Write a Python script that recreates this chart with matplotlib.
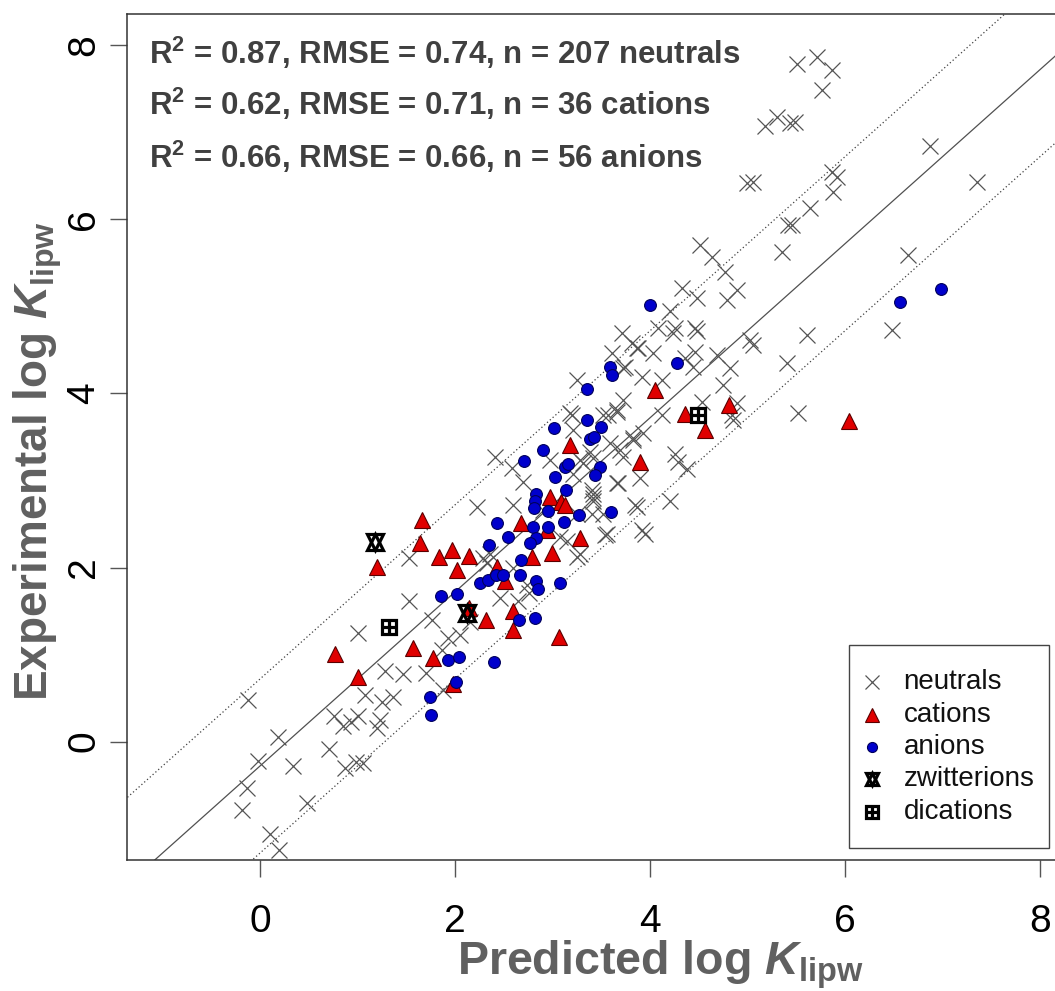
import numpy as np
import matplotlib
matplotlib.use("Agg")
import matplotlib.pyplot as plt
from matplotlib.patches import Rectangle

plt.rcParams['font.family'] = ['Liberation Sans', 'DejaVu Sans']
plt.rcParams['mathtext.fontset'] = 'custom'
plt.rcParams['mathtext.rm'] = 'Liberation Sans:bold'
plt.rcParams['mathtext.bf'] = 'Liberation Sans:bold'
plt.rcParams['mathtext.it'] = 'Liberation Sans:bold:italic'

# --- data (predicted, experimental log K_lipw) ---
neutral_x = [-0.12, 0.18, -0.02, 0.34, -0.13, -0.18, 0.48, 0.10, 0.19, 0.71,
             0.76, 0.85, 0.93, 1.00, 1.08, 0.87, 0.98, 1.06, 1.20, 1.23,
             1.25, 1.36, 1.28, 1.47, 1.70, 1.01, 1.53, 1.53, 1.76, 1.93,
             2.05, 1.88, 1.87, 2.46, 2.65, 2.76, 2.23, 2.59, 2.29, 2.59,
             2.74, 3.15, 3.25, 2.33, 2.15, 2.41, 2.58, 2.70, 2.97, 3.18,
             3.21, 3.28, 3.21, 3.42, 2.36, 3.08, 3.28, 3.42, 3.41, 3.25,
             2.90, 3.71, 3.87, 3.61, 3.72, 3.92, 3.25, 3.20, 3.52, 3.66,
             3.72, 3.83, 3.69, 3.31, 3.38, 3.66, 3.87, 3.52, 3.56, 3.92,
             3.42, 4.51, 4.64, 4.77, 4.89, 4.79, 4.33, 4.48, 4.21, 4.08,
             4.26, 4.24, 4.46, 4.48, 3.82, 3.88, 4.03, 4.46, 4.36, 4.44,
             4.69, 4.82, 5.03, 5.06, 5.35, 5.41, 4.75, 4.12, 3.66, 3.57,
             4.12, 4.53, 4.84, 4.89, 3.74, 5.51, 5.71, 5.87, 5.76, 5.18,
             5.30, 5.44, 5.49, 4.99, 5.06, 6.87, 7.35, 5.87, 5.92, 5.88,
             5.64, 5.42, 5.46, 6.65, 5.61, 6.48, 5.52, 4.26, 4.29, 4.38,
             4.21, 3.95, 3.54, 3.85, 3.67, 3.90, 3.72, 3.59, 3.83, 3.93,
             3.41, 3.42, 4.85]
neutral_y = [0.48, 0.05, -0.22, -0.28, -0.53, -0.79, -0.71, -1.06, -1.24, -0.09,
             0.29, 0.18, 0.23, 0.30, 0.53, -0.30, -0.23, -0.24, 0.16, 0.25,
             0.45, 0.51, 0.81, 0.78, 0.79, 1.25, 1.62, 2.11, 1.40, 1.19,
             1.23, 0.59, 1.05, 1.65, 1.62, 1.71, 2.70, 2.72, 2.11, 2.00,
             1.80, 2.31, 2.12, 2.05, 1.37, 3.27, 3.14, 2.98, 3.23, 3.77,
             3.58, 3.23, 3.08, 3.26, 2.16, 2.35, 2.16, 2.80, 2.62, 2.62,
             2.66, 4.69, 4.52, 4.46, 4.29, 4.19, 4.15, 3.75, 3.75, 3.81,
             3.92, 3.46, 3.35, 3.20, 3.33, 2.97, 2.69, 2.62, 2.39, 2.43,
             2.85, 5.71, 5.57, 5.40, 5.19, 5.07, 5.21, 5.10, 4.95, 4.75,
             4.75, 4.69, 4.75, 4.72, 4.58, 4.52, 4.46, 4.48, 4.41, 4.30,
             4.44, 4.29, 4.61, 4.56, 5.63, 4.35, 4.10, 4.15, 3.79, 3.75,
             3.75, 3.90, 3.75, 3.89, 4.30, 7.78, 7.87, 7.72, 7.49, 7.07,
             7.18, 7.11, 7.12, 6.42, 6.43, 6.84, 6.43, 6.54, 6.49, 6.31,
             6.13, 5.94, 5.93, 5.59, 4.67, 4.73, 3.77, 3.31, 3.21, 3.13,
             2.77, 2.39, 2.37, 2.72, 2.97, 3.03, 3.27, 3.43, 3.49, 3.54,
             2.89, 2.77, 3.69]

cation_x = [0.77, 1.01, 1.20, 1.64, 1.66, 1.84, 1.97, 2.14, 2.02, 1.57,
            1.77, 1.98, 2.14, 2.32, 2.59, 2.59, 3.07, 2.43, 2.51, 2.68,
            2.79, 2.99, 2.94, 2.97, 3.09, 3.13, 3.28, 3.18, 3.90, 4.05,
            4.36, 4.56, 4.81, 6.04]
cation_y = [1.01, 0.74, 2.01, 2.28, 2.55, 2.12, 2.20, 2.13, 1.97, 1.08,
            0.96, 0.66, 1.54, 1.40, 1.50, 1.28, 1.20, 2.01, 1.84, 2.51,
            2.12, 2.17, 2.43, 2.81, 2.75, 2.72, 2.34, 3.41, 3.21, 4.04,
            3.76, 3.58, 3.87, 3.68]

anion_x = [4.00, 4.28, 6.56, 6.98, 3.59, 3.61, 3.35, 3.35, 3.50, 3.38,
           3.43, 3.02, 2.90, 2.71, 3.13, 3.16, 3.49, 3.44, 3.03, 3.14,
           2.83, 2.82, 2.81, 2.95, 3.27, 3.60, 3.12, 2.80, 2.95, 2.43,
           2.54, 2.35, 2.83, 2.77, 2.68, 2.26, 2.34, 2.42, 2.49, 2.67,
           2.83, 2.85, 3.08, 1.86, 2.02, 2.66, 2.82, 1.93, 2.04, 2.40,
           2.01, 1.74, 1.75]
anion_y = [5.02, 4.35, 5.05, 5.20, 4.30, 4.21, 4.05, 3.69, 3.62, 3.48,
           3.50, 3.60, 3.35, 3.22, 3.16, 3.19, 3.15, 3.06, 3.04, 2.89,
           2.85, 2.76, 2.68, 2.65, 2.60, 2.64, 2.52, 2.47, 2.47, 2.51,
           2.35, 2.26, 2.34, 2.28, 2.09, 1.82, 1.86, 1.91, 1.91, 1.91,
           1.84, 1.75, 1.82, 1.67, 1.70, 1.40, 1.42, 0.94, 0.97, 0.92,
           0.68, 0.51, 0.31]

zwitterion_x = [1.18, 2.12]
zwitterion_y = [2.29, 1.48]
dication_x = [1.32, 4.49]
dication_y = [1.32, 3.75]

fit_intercept = -0.28   # solid line y = x + intercept, dotted lines at +/- 1
band = 1.0

stats_lines = [r"$\mathrm{R}^{2}$ = 0.87, RMSE = 0.74, n = 207 neutrals",
               r"$\mathrm{R}^{2}$ = 0.62, RMSE = 0.71, n = 36 cations",
               r"$\mathrm{R}^{2}$ = 0.66, RMSE = 0.66, n = 56 anions"]
stats_y = [7.78, 7.20, 6.59]
legend_labels = ["neutrals", "cations", "anions", "zwitterions", "dications"]

lim = (-1.36, 8.36)

fig = plt.figure(figsize=(10.55, 9.91), dpi=100)
ax = fig.add_axes([0.1208, 0.1322, 0.8982, 0.8537])
ax.set_xlim(lim)
ax.set_ylim(lim)

# reference lines
xx = np.array(lim)
ax.plot(xx, xx + fit_intercept, color='#505050', lw=0.9, zorder=1)
for off in (band, -band):
    ax.plot(xx, xx + fit_intercept + off, color='#404040', lw=0.9,
            ls=(0, (1.0, 2.0)), zorder=1)

# styles
st_neu = dict(marker='x', ls='none', color='#555555', ms=11.5, mew=0.9)
st_cat = dict(marker='^', ls='none', mfc='#e00000', mec='#5a0000', ms=12, mew=0.8)
st_ani = dict(marker='o', ls='none', mfc='#0000cc', mec='#00005a', ms=8.5, mew=0.8)
st_zw1 = dict(marker='^', ls='none', mfc='none', mec='black', ms=11, mew=2.3)
st_zw2 = dict(marker='v', ls='none', mfc='none', mec='black', ms=11, mew=2.3)
st_di1 = dict(marker='s', ls='none', mfc='white', mec='black', ms=10.5, mew=2.3)
st_di2 = dict(marker='+', ls='none', color='black', ms=10.5, mew=2.3)

ax.plot(neutral_x, neutral_y, zorder=2, **st_neu)
ax.plot(cation_x, cation_y, zorder=3, **st_cat)
ax.plot(anion_x, anion_y, zorder=4, **st_ani)
ax.plot(zwitterion_x, zwitterion_y, zorder=5, **st_zw1)
ax.plot(zwitterion_x, zwitterion_y, zorder=5, **st_zw2)
ax.plot(dication_x, dication_y, zorder=5, **st_di1)
ax.plot(dication_x, dication_y, zorder=5, **st_di2)

# statistics text
for txt, ty in zip(stats_lines, stats_y):
    ax.text(-1.14, ty, txt, fontsize=22.5, fontweight='bold', color='#404040',
            ha='left', va='baseline', zorder=6)

# legend drawn as a boxed key in axes fraction
ax.add_patch(Rectangle((0.761, 0.014), 0.211, 0.240, transform=ax.transAxes,
                       fill=True, fc='white', ec='#444444', lw=1.0, zorder=7))
key_styles = [[st_neu], [st_cat], [st_ani], [st_zw1, st_zw2], [st_di1, st_di2]]
row0, step = 0.210, 0.0382
for i, (lab, sts) in enumerate(zip(legend_labels, key_styles)):
    ry = row0 - i * step
    for s in sts:
        s2 = dict(s)
        s2['ms'] = s['ms'] * 0.85
        ax.plot([0.786], [ry], transform=ax.transAxes, zorder=8, clip_on=False, **s2)
    ax.text(0.819, ry, lab, transform=ax.transAxes, fontsize=20, color='#111111',
            ha='left', va='center', zorder=8)

# axes styling
for side in ('left', 'bottom', 'top', 'right'):
    ax.spines[side].set_color('#333333')
    ax.spines[side].set_linewidth(1.1)
ticks = [0, 2, 4, 6, 8]
ax.set_xticks(ticks)
ax.set_yticks(ticks)
ax.tick_params(direction='out', length=12, width=1.0, color='#555555',
               labelsize=28, labelcolor='black')
ax.tick_params(axis='x', pad=20)
ax.tick_params(axis='y', pad=6, labelrotation=90)
for lab in ax.get_yticklabels():
    lab.set_va('center')

fig.text(0.626, 0.026, r"Predicted log $K_{\mathbf{lipw}}$", fontsize=33.5,
         fontweight='bold', color='#606060', ha='center', va='center')
fig.text(0.036, 0.535, r"Experimental log $K_{\mathbf{lipw}}$", fontsize=33,
         fontweight='bold', color='#606060', ha='center', va='center',
         rotation=90)

fig.savefig("out.png", dpi=100)
